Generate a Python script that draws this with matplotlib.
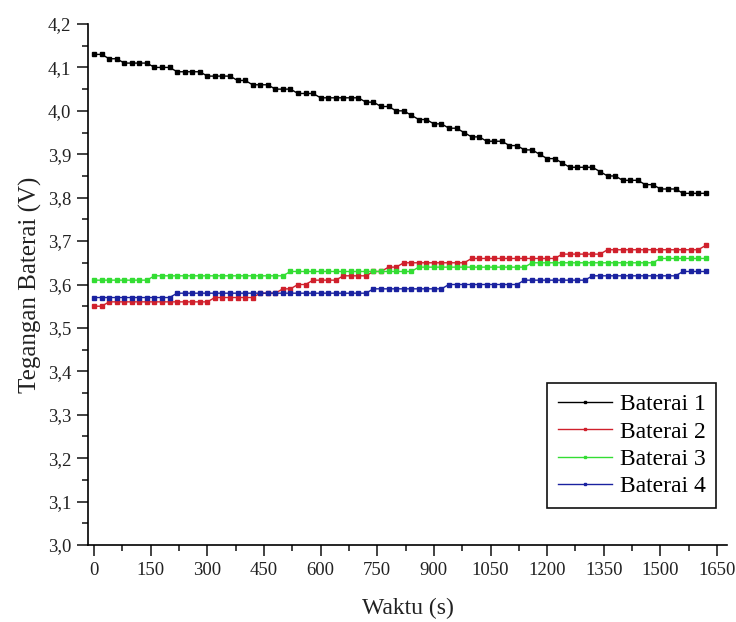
import matplotlib
matplotlib.use("Agg")
import matplotlib.pyplot as plt
from matplotlib.ticker import MultipleLocator, FuncFormatter

# time samples every 20 s
waktu = list(range(0, 1640, 20))

baterai_1 = [4.13, 4.13, 4.12, 4.12, 4.11, 4.11, 4.11, 4.11, 4.10, 4.10,
             4.10, 4.09, 4.09, 4.09, 4.09, 4.08, 4.08, 4.08, 4.08, 4.07,
             4.07, 4.06, 4.06, 4.06, 4.05, 4.05, 4.05, 4.04, 4.04, 4.04,
             4.03, 4.03, 4.03, 4.03, 4.03, 4.03, 4.02, 4.02, 4.01, 4.01,
             4.00, 4.00, 3.99, 3.98, 3.98, 3.97, 3.97, 3.96, 3.96, 3.95,
             3.94, 3.94, 3.93, 3.93, 3.93, 3.92, 3.92, 3.91, 3.91, 3.90,
             3.89, 3.89, 3.88, 3.87, 3.87, 3.87, 3.87, 3.86, 3.85, 3.85,
             3.84, 3.84, 3.84, 3.83, 3.83, 3.82, 3.82, 3.82, 3.81, 3.81,
             3.81, 3.81]
baterai_2 = [3.55, 3.55, 3.56, 3.56, 3.56, 3.56, 3.56, 3.56, 3.56, 3.56,
             3.56, 3.56, 3.56, 3.56, 3.56, 3.56, 3.57, 3.57, 3.57, 3.57,
             3.57, 3.57, 3.58, 3.58, 3.58, 3.59, 3.59, 3.60, 3.60, 3.61,
             3.61, 3.61, 3.61, 3.62, 3.62, 3.62, 3.62, 3.63, 3.63, 3.64,
             3.64, 3.65, 3.65, 3.65, 3.65, 3.65, 3.65, 3.65, 3.65, 3.65,
             3.66, 3.66, 3.66, 3.66, 3.66, 3.66, 3.66, 3.66, 3.66, 3.66,
             3.66, 3.66, 3.67, 3.67, 3.67, 3.67, 3.67, 3.67, 3.68, 3.68,
             3.68, 3.68, 3.68, 3.68, 3.68, 3.68, 3.68, 3.68, 3.68, 3.68,
             3.68, 3.69]
baterai_3 = [3.61, 3.61, 3.61, 3.61, 3.61, 3.61, 3.61, 3.61, 3.62, 3.62,
             3.62, 3.62, 3.62, 3.62, 3.62, 3.62, 3.62, 3.62, 3.62, 3.62,
             3.62, 3.62, 3.62, 3.62, 3.62, 3.62, 3.63, 3.63, 3.63, 3.63,
             3.63, 3.63, 3.63, 3.63, 3.63, 3.63, 3.63, 3.63, 3.63, 3.63,
             3.63, 3.63, 3.63, 3.64, 3.64, 3.64, 3.64, 3.64, 3.64, 3.64,
             3.64, 3.64, 3.64, 3.64, 3.64, 3.64, 3.64, 3.64, 3.65, 3.65,
             3.65, 3.65, 3.65, 3.65, 3.65, 3.65, 3.65, 3.65, 3.65, 3.65,
             3.65, 3.65, 3.65, 3.65, 3.65, 3.66, 3.66, 3.66, 3.66, 3.66,
             3.66, 3.66]
baterai_4 = [3.57, 3.57, 3.57, 3.57, 3.57, 3.57, 3.57, 3.57, 3.57, 3.57,
             3.57, 3.58, 3.58, 3.58, 3.58, 3.58, 3.58, 3.58, 3.58, 3.58,
             3.58, 3.58, 3.58, 3.58, 3.58, 3.58, 3.58, 3.58, 3.58, 3.58,
             3.58, 3.58, 3.58, 3.58, 3.58, 3.58, 3.58, 3.59, 3.59, 3.59,
             3.59, 3.59, 3.59, 3.59, 3.59, 3.59, 3.59, 3.60, 3.60, 3.60,
             3.60, 3.60, 3.60, 3.60, 3.60, 3.60, 3.60, 3.61, 3.61, 3.61,
             3.61, 3.61, 3.61, 3.61, 3.61, 3.61, 3.62, 3.62, 3.62, 3.62,
             3.62, 3.62, 3.62, 3.62, 3.62, 3.62, 3.62, 3.62, 3.63, 3.63,
             3.63, 3.63]

series = [("Baterai 1", baterai_1, "#000000"),
          ("Baterai 2", baterai_2, "#d0202c"),
          ("Baterai 3", baterai_3, "#33dd33"),
          ("Baterai 4", baterai_4, "#1a22a0")]

plt.rcParams["font.family"] = ["Liberation Serif", "DejaVu Serif"]

fig = plt.figure(figsize=(7.36, 6.22), dpi=100)
ax = fig.add_axes([0.1196, 0.1238, 0.868, 0.8376])

for name, vals, col in series:
    ax.plot(waktu, vals, color=col, lw=1.0, marker="s", ms=3.2,
            mec=col, mfc=col, label=name)

ax.set_xlim(-16, 1676)
ax.set_ylim(3.0, 4.2)
ax.xaxis.set_major_locator(MultipleLocator(150))
ax.xaxis.set_minor_locator(MultipleLocator(75))
ax.yaxis.set_major_locator(MultipleLocator(0.1))
ax.yaxis.set_minor_locator(MultipleLocator(0.05))
ax.yaxis.set_major_formatter(FuncFormatter(lambda v, p: f"{v:.1f}".replace(".", ",")))

for s in ["top", "right"]:
    ax.spines[s].set_visible(False)
for s in ["left", "bottom"]:
    ax.spines[s].set_linewidth(1.2)

ax.tick_params(which="major", direction="out", length=8, width=1.2,
               labelsize=13.5, colors="#222222", pad=4)
ax.tick_params(which="minor", direction="out", length=4.5, width=1.2,
               colors="#222222")

ax.set_xlabel("Waktu (s)", fontsize=17, color="#222222", labelpad=14)
ax.set_ylabel("Tegangan Baterai (V)", fontsize=18, color="#222222", labelpad=4)

leg = ax.legend(loc="lower right", bbox_to_anchor=(0.983, 0.071),
                borderaxespad=0, fontsize=17, numpoints=1, markerscale=0.6,
                handlelength=2.3, handletextpad=0.3, labelspacing=0.25,
                borderpad=0.45, fancybox=False, framealpha=1)
leg.get_frame().set_edgecolor("#111111")
leg.get_frame().set_linewidth(1.2)

fig.savefig("out.png", dpi=100)
